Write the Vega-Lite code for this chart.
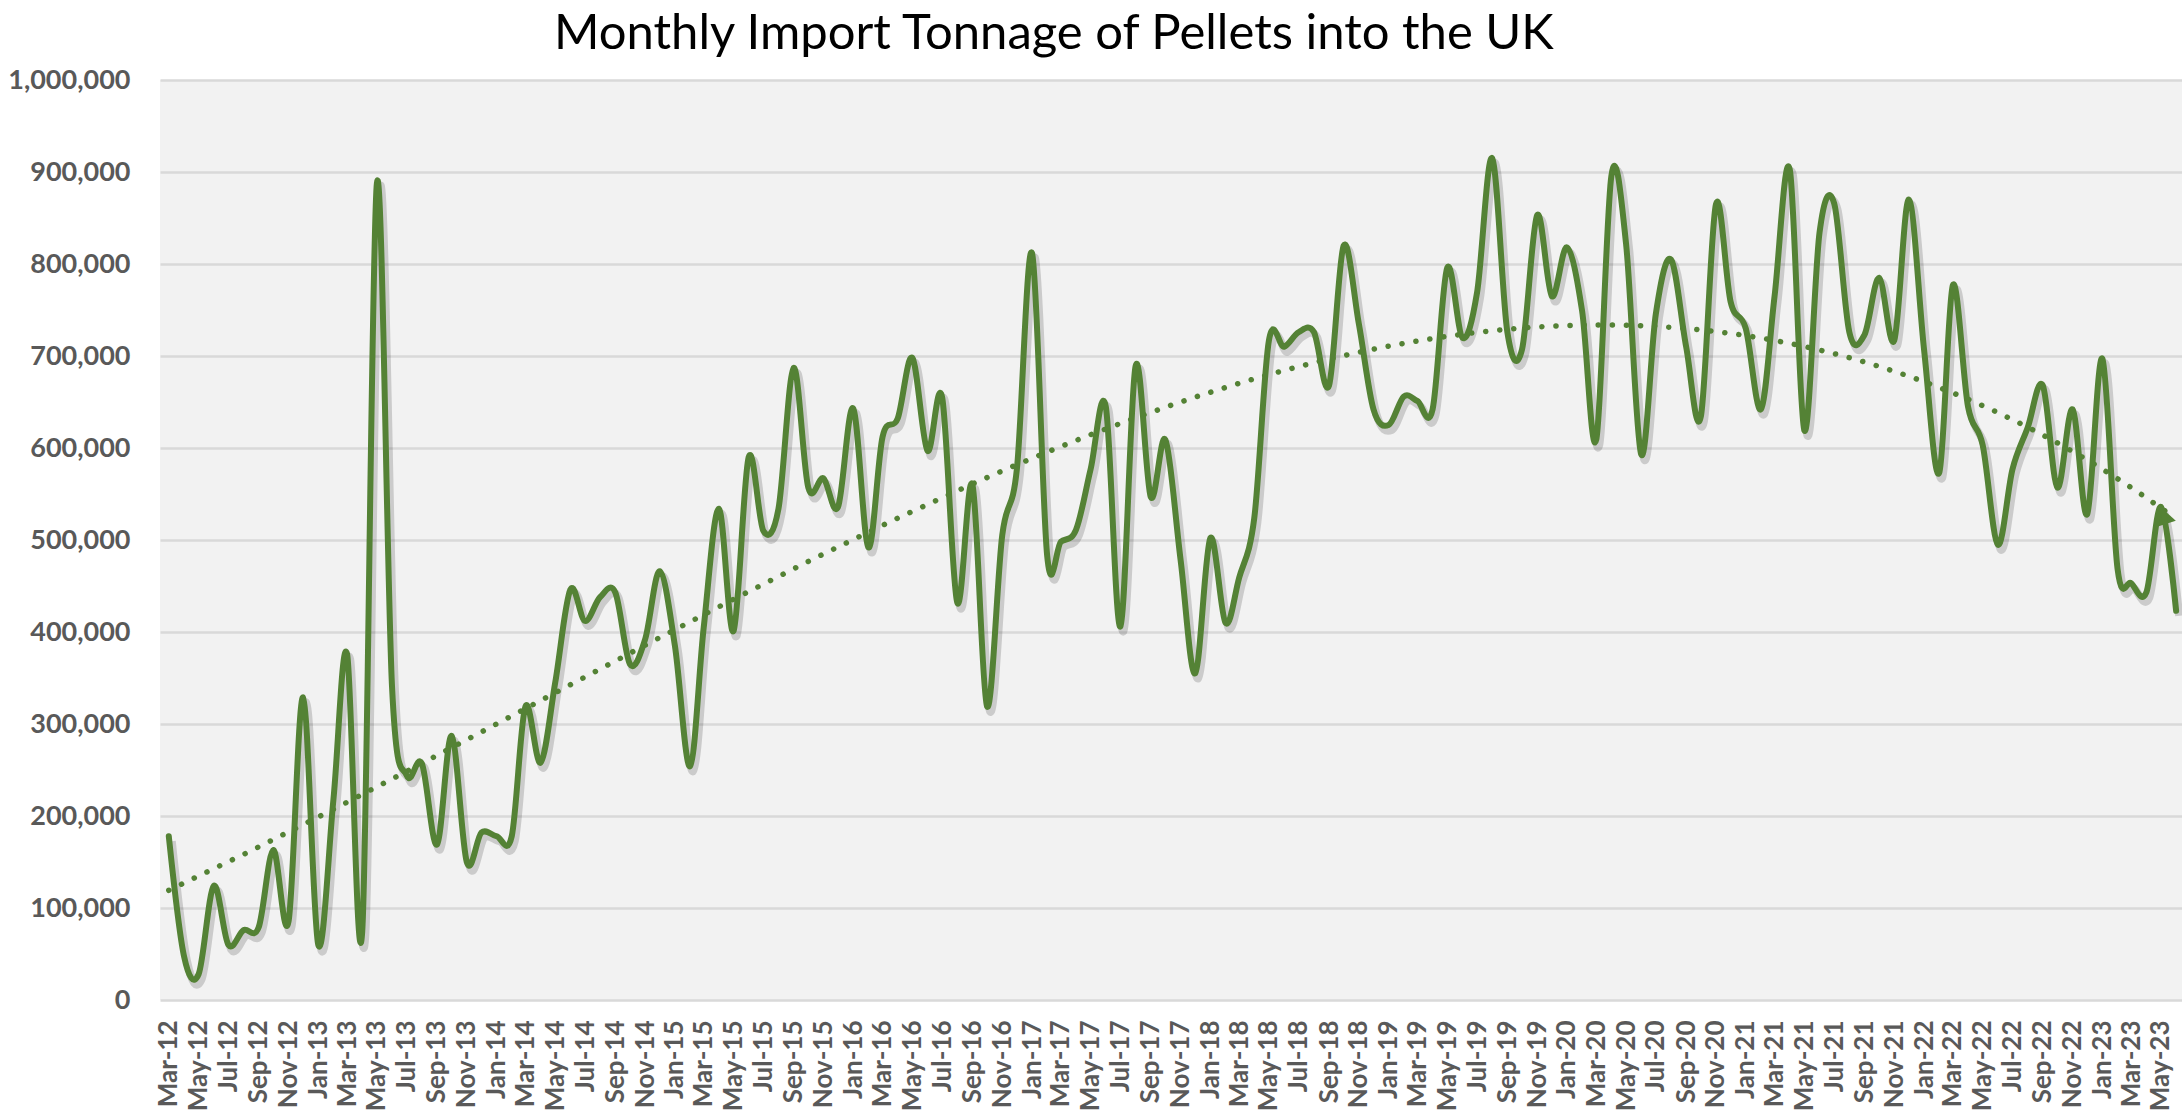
{
  "$schema": "https://vega.github.io/schema/vega-lite/v6.json",
  "width": 2022,
  "height": 920,
  "autosize": {"type": "none"},
  "padding": {"left": 160, "top": 80, "right": 0, "bottom": 118},
  "background": "white",
  "view": {"fill": "#F2F2F2", "stroke": null},
  "config": {"font": "Lato"},
  "title": {
    "text": "Monthly Import Tonnage of Pellets into the UK",
    "font": "Lato", "fontSize": 49, "fontWeight": "normal", "color": "#000000",
    "anchor": "start", "frame": "group", "dx": 394, "offset": 7
  },
  "data": {"values": [
    {"date": "2012-03-01", "value": 178000},
    {"date": "2012-04-01", "value": 48000},
    {"date": "2012-05-01", "value": 28000},
    {"date": "2012-06-01", "value": 124000},
    {"date": "2012-07-01", "value": 60000},
    {"date": "2012-08-01", "value": 76000},
    {"date": "2012-09-01", "value": 79000},
    {"date": "2012-10-01", "value": 163000},
    {"date": "2012-11-01", "value": 85000},
    {"date": "2012-12-01", "value": 329000},
    {"date": "2013-01-01", "value": 60000},
    {"date": "2013-02-01", "value": 218000},
    {"date": "2013-03-01", "value": 376000},
    {"date": "2013-04-01", "value": 75000},
    {"date": "2013-05-01", "value": 888000},
    {"date": "2013-06-01", "value": 340000},
    {"date": "2013-07-01", "value": 244000},
    {"date": "2013-08-01", "value": 257000},
    {"date": "2013-09-01", "value": 169000},
    {"date": "2013-10-01", "value": 287000},
    {"date": "2013-11-01", "value": 150000},
    {"date": "2013-12-01", "value": 182000},
    {"date": "2014-01-01", "value": 178000},
    {"date": "2014-02-01", "value": 178000},
    {"date": "2014-03-01", "value": 319000},
    {"date": "2014-04-01", "value": 258000},
    {"date": "2014-05-01", "value": 345000},
    {"date": "2014-06-01", "value": 446000},
    {"date": "2014-07-01", "value": 412000},
    {"date": "2014-08-01", "value": 438000},
    {"date": "2014-09-01", "value": 443000},
    {"date": "2014-10-01", "value": 365000},
    {"date": "2014-11-01", "value": 392000},
    {"date": "2014-12-01", "value": 466000},
    {"date": "2015-01-01", "value": 385000},
    {"date": "2015-02-01", "value": 254000},
    {"date": "2015-03-01", "value": 405000},
    {"date": "2015-04-01", "value": 534000},
    {"date": "2015-05-01", "value": 401000},
    {"date": "2015-06-01", "value": 590000},
    {"date": "2015-07-01", "value": 510000},
    {"date": "2015-08-01", "value": 534000},
    {"date": "2015-09-01", "value": 687000},
    {"date": "2015-10-01", "value": 557000},
    {"date": "2015-11-01", "value": 567000},
    {"date": "2015-12-01", "value": 536000},
    {"date": "2016-01-01", "value": 643000},
    {"date": "2016-02-01", "value": 492000},
    {"date": "2016-03-01", "value": 612000},
    {"date": "2016-04-01", "value": 632000},
    {"date": "2016-05-01", "value": 698000},
    {"date": "2016-06-01", "value": 597000},
    {"date": "2016-07-01", "value": 655000},
    {"date": "2016-08-01", "value": 432000},
    {"date": "2016-09-01", "value": 560000},
    {"date": "2016-10-01", "value": 319000},
    {"date": "2016-11-01", "value": 505000},
    {"date": "2016-12-01", "value": 577000},
    {"date": "2017-01-01", "value": 812000},
    {"date": "2017-02-01", "value": 483000},
    {"date": "2017-03-01", "value": 498000},
    {"date": "2017-04-01", "value": 511000},
    {"date": "2017-05-01", "value": 577000},
    {"date": "2017-06-01", "value": 645000},
    {"date": "2017-07-01", "value": 406000},
    {"date": "2017-08-01", "value": 689000},
    {"date": "2017-09-01", "value": 547000},
    {"date": "2017-10-01", "value": 609000},
    {"date": "2017-11-01", "value": 479000},
    {"date": "2017-12-01", "value": 355000},
    {"date": "2018-01-01", "value": 502000},
    {"date": "2018-02-01", "value": 410000},
    {"date": "2018-03-01", "value": 459000},
    {"date": "2018-04-01", "value": 524000},
    {"date": "2018-05-01", "value": 717000},
    {"date": "2018-06-01", "value": 710000},
    {"date": "2018-07-01", "value": 726000},
    {"date": "2018-08-01", "value": 726000},
    {"date": "2018-09-01", "value": 668000},
    {"date": "2018-10-01", "value": 820000},
    {"date": "2018-11-01", "value": 735000},
    {"date": "2018-12-01", "value": 642000},
    {"date": "2019-01-01", "value": 625000},
    {"date": "2019-02-01", "value": 656000},
    {"date": "2019-03-01", "value": 651000},
    {"date": "2019-04-01", "value": 642000},
    {"date": "2019-05-01", "value": 796000},
    {"date": "2019-06-01", "value": 720000},
    {"date": "2019-07-01", "value": 769000},
    {"date": "2019-08-01", "value": 915000},
    {"date": "2019-09-01", "value": 726000},
    {"date": "2019-10-01", "value": 707000},
    {"date": "2019-11-01", "value": 853000},
    {"date": "2019-12-01", "value": 765000},
    {"date": "2020-01-01", "value": 818000},
    {"date": "2020-02-01", "value": 749000},
    {"date": "2020-03-01", "value": 609000},
    {"date": "2020-04-01", "value": 896000},
    {"date": "2020-05-01", "value": 822000},
    {"date": "2020-06-01", "value": 593000},
    {"date": "2020-07-01", "value": 746000},
    {"date": "2020-08-01", "value": 805000},
    {"date": "2020-09-01", "value": 710000},
    {"date": "2020-10-01", "value": 634000},
    {"date": "2020-11-01", "value": 865000},
    {"date": "2020-12-01", "value": 759000},
    {"date": "2021-01-01", "value": 730000},
    {"date": "2021-02-01", "value": 642000},
    {"date": "2021-03-01", "value": 765000},
    {"date": "2021-04-01", "value": 903000},
    {"date": "2021-05-01", "value": 619000},
    {"date": "2021-06-01", "value": 834000},
    {"date": "2021-07-01", "value": 866000},
    {"date": "2021-08-01", "value": 726000},
    {"date": "2021-09-01", "value": 723000},
    {"date": "2021-10-01", "value": 785000},
    {"date": "2021-11-01", "value": 717000},
    {"date": "2021-12-01", "value": 870000},
    {"date": "2022-01-01", "value": 707000},
    {"date": "2022-02-01", "value": 573000},
    {"date": "2022-03-01", "value": 777000},
    {"date": "2022-04-01", "value": 645000},
    {"date": "2022-05-01", "value": 603000},
    {"date": "2022-06-01", "value": 495000},
    {"date": "2022-07-01", "value": 577000},
    {"date": "2022-08-01", "value": 622000},
    {"date": "2022-09-01", "value": 668000},
    {"date": "2022-10-01", "value": 557000},
    {"date": "2022-11-01", "value": 642000},
    {"date": "2022-12-01", "value": 528000},
    {"date": "2023-01-01", "value": 697000},
    {"date": "2023-02-01", "value": 469000},
    {"date": "2023-03-01", "value": 453000},
    {"date": "2023-04-01", "value": 443000},
    {"date": "2023-05-01", "value": 536000},
    {"date": "2023-06-01", "value": 423000}
  ]},
  "encoding": {
    "x": {
      "field": "date", "type": "temporal",
      "scale": {"type": "utc", "domain": [
        {"year": 2012, "month": "feb", "date": 12, "utc": true},
        {"year": 2023, "month": "jun", "date": 13, "utc": true}
      ]},
      "axis": {
        "title": null,
        "tickCount": {"interval": "month", "step": 2},
        "format": "%b-%y",
        "labelAngle": -90,
        "labelFont": "Lato", "labelFontSize": 26, "labelFontWeight": "bold", "labelColor": "#595959",
        "labelPadding": 20, "ticks": false, "tickSize": 0, "domain": false, "grid": false,
        "labelOverlap": false, "labelBound": false, "labelFlush": false
      }
    },
    "y": {
      "field": "value", "type": "quantitative",
      "scale": {"domain": [0, 1000000], "nice": false, "zero": true},
      "axis": {
        "title": null, "format": ",.0f", "tickCount": 10,
        "labelFont": "Lato", "labelFontSize": 27, "labelFontWeight": "bold", "labelColor": "#595959",
        "labelPadding": 30, "ticks": false, "tickSize": 0, "domain": false,
        "grid": true, "gridColor": "#D9D9D9", "gridWidth": 2.5
      }
    }
  },
  "layer": [
    {
      "mark": {"type": "line", "interpolate": "cardinal", "tension": 0, "color": "#000000", "opacity": 0.16, "strokeWidth": 8, "xOffset": 3, "yOffset": 5, "clip": true}
    },
    {
      "transform": [{"regression": "value", "on": "date", "method": "poly", "order": 3}],
      "mark": {"type": "line", "color": "#548235", "strokeWidth": 5.5, "strokeDash": [0.1, 14], "strokeCap": "round"}
    },
    {
      "transform": [
        {"regression": "value", "on": "date", "method": "poly", "order": 3},
        {"joinaggregate": [{"op": "max", "field": "date", "as": "maxd"}]},
        {"filter": "datum.date === datum.maxd"}
      ],
      "mark": {"type": "point", "shape": "triangle-right", "filled": true, "size": 520, "angle": 12, "color": "#548235", "opacity": 1, "xOffset": -10}
    },
    {
      "mark": {"type": "line", "interpolate": "cardinal", "tension": 0, "color": "#548235", "strokeWidth": 6, "strokeJoin": "round", "strokeCap": "round", "clip": true}
    }
  ]
}
